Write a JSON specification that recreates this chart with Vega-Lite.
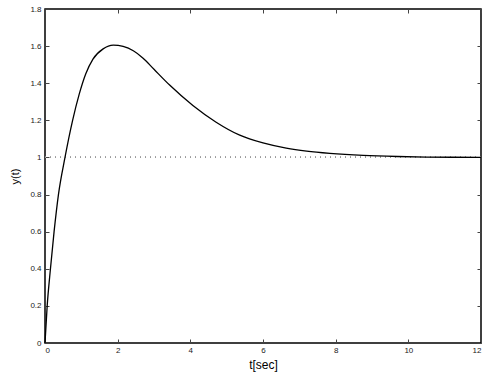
{
  "$schema": "https://vega.github.io/schema/vega-lite/v6.json",
  "autosize": "none",
  "padding": {"left": 45, "top": 9, "right": 18, "bottom": 35},
  "width": 436,
  "height": 334,
  "background": "white",
  "config": {
    "font": "Liberation Sans",
    "view": {"stroke": "black", "strokeWidth": 1.5},
    "axis": {
      "grid": false,
      "domain": false,
      "tickSize": -4,
      "tickColor": "#444",
      "labelFont": "Liberation Sans",
      "labelFontSize": 8,
      "labelColor": "#222",
      "titleFont": "Liberation Sans",
      "titleFontWeight": "normal",
      "titleColor": "black"
    }
  },
  "data": {
    "values": [
      {"t": 0, "y": 0},
      {"t": 0.06, "y": 0.2},
      {"t": 0.14, "y": 0.38},
      {"t": 0.25, "y": 0.6},
      {"t": 0.37, "y": 0.8},
      {"t": 0.55, "y": 1.0},
      {"t": 0.76, "y": 1.2},
      {"t": 0.94, "y": 1.34},
      {"t": 1.12, "y": 1.45},
      {"t": 1.32, "y": 1.53},
      {"t": 1.6, "y": 1.585},
      {"t": 1.88, "y": 1.605},
      {"t": 2.15, "y": 1.598},
      {"t": 2.43, "y": 1.575},
      {"t": 2.7, "y": 1.535},
      {"t": 3.0, "y": 1.475},
      {"t": 3.43, "y": 1.39},
      {"t": 4.07, "y": 1.28},
      {"t": 4.71, "y": 1.19},
      {"t": 5.36, "y": 1.12},
      {"t": 6.0, "y": 1.078},
      {"t": 6.64, "y": 1.05},
      {"t": 7.2, "y": 1.034},
      {"t": 7.84, "y": 1.022},
      {"t": 8.76, "y": 1.011},
      {"t": 9.7, "y": 1.005},
      {"t": 10.5, "y": 1.002},
      {"t": 11.2, "y": 1.001},
      {"t": 12, "y": 1.0}
    ]
  },
  "layer": [
    {
      "mark": {"type": "rule", "color": "#999", "strokeDash": [1, 4], "strokeWidth": 1},
      "encoding": {
        "y": {"datum": 1, "type": "quantitative", "scale": {"domain": [0, 1.8], "nice": false},
              "axis": {"orient": "right", "labels": false, "title": null, "values": [0,0.2,0.4,0.6,0.8,1,1.2,1.4,1.6,1.8]}},
        "x": {"datum": 0, "type": "quantitative", "scale": {"domain": [0, 12], "nice": false},
              "axis": {"orient": "top", "labels": false, "title": null, "values": [0,2,4,6,8,10,12]}},
        "x2": {"datum": 12}
      }
    },
    {
      "mark": {"type": "line", "color": "black", "strokeWidth": 1.3, "interpolate": "monotone"},
      "encoding": {
        "x": {"field": "t", "type": "quantitative", "scale": {"domain": [0, 12], "nice": false},
              "axis": {"orient": "bottom", "title": "t[sec]", "titleFontSize": 12, "titlePadding": 5, "labelPadding": 7, "format": "~g", "values": [0,2,4,6,8,10,12]}},
        "y": {"field": "y", "type": "quantitative", "scale": {"domain": [0, 1.8], "nice": false},
              "axis": {"orient": "left", "title": "y(t)", "titleFontSize": 11, "titlePadding": 9, "labelPadding": 8, "format": ".1~f", "values": [0,0.2,0.4,0.6,0.8,1,1.2,1.4,1.6,1.8]}}
      }
    }
  ],
  "resolve": {"axis": {"x": "independent", "y": "independent"}}
}
